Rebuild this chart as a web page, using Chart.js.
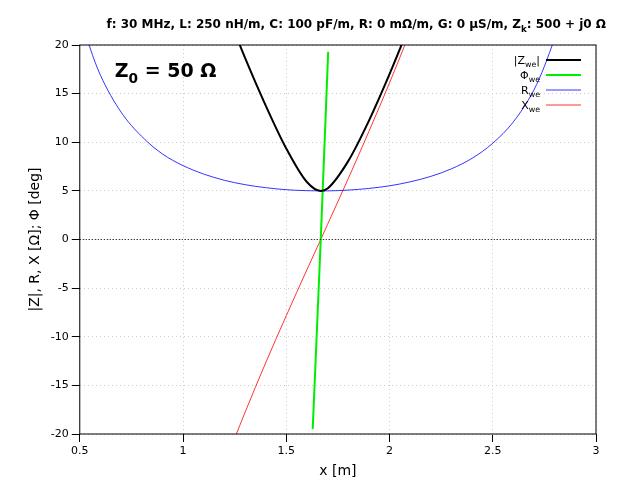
<!DOCTYPE html>
<html>
<head>
<meta charset="utf-8">
<script src="https://cdn.jsdelivr.net/npm/chart.js@4"></script>
<style>
body { margin: 0; background: #fff; }
#wrap { width: 640px; height: 480px; }
</style>
</head>
<body>
<div id="wrap"><canvas id="c" width="640" height="480"></canvas></div>
<script>
// values
const xPos = [0.5, 0.55, 0.6, 0.7, 0.8, 0.9, 1.0, 1.1, 1.2, 1.3, 1.4, 1.5, 1.6, 1.667, 1.7, 1.8, 1.9, 2.0, 2.1, 2.2, 2.3, 2.4, 2.5, 2.6, 2.7, 2.75, 2.8];
const rWe = [23.4, 19.7, 16.9, 13.1, 10.6, 8.8, 7.6, 6.73, 6.09, 5.64, 5.33, 5.12, 5.02, 5.0, 5.0, 5.08, 5.25, 5.52, 5.93, 6.49, 7.27, 8.35, 9.9, 12.1, 15.4, 17.8, 20.7];
const xWe = [-93.6, -84, -75.9, -62.8, -52.2, -43.2, -35.8, -29.2, -23.2, -17.8, -12.7, -7.84, -3.11, 0, 1.55, 6.25, 11.1, 16.1, 21.4, 27.1, 33.4, 40.6, 49.0, 59.0, 71.1, 78, 86.8];
const absX = [1.2, 1.3, 1.4, 1.5, 1.6, 1.667, 1.7, 1.8, 1.9, 2.0, 2.1];
const absZ = [24.0, 18.7, 13.8, 9.36, 5.91, 5.0, 5.24, 8.06, 12.2, 17.0, 22.2];
const phiX = [1.628, 1.667, 1.703];
const phiVal = [-19.5, 0, 19.3];

function pts(xs, ys) { return xs.map((x, i) => ({ x: x, y: ys[i] })); }

const series = [
    { name: "|Z", sub: "we", after: "|", color: "#000000", width: 2, data: pts(absX, absZ) },
    { name: "Φ", sub: "we", after: "", color: "#00ee00", width: 2, data: pts(phiX, phiVal) },
    { name: "R", sub: "we", after: "", color: "#0000ff", width: 0.8, data: pts(xPos, rWe) },
    { name: "X", sub: "we", after: "", color: "#ff0000", width: 0.8, data: pts(xPos, xWe) },
];

// text with subscript helper
function subText(ctx, parts, x, y, size, bold, align) {
    const f = (s) => (bold ? "bold " : "") + s + "px 'DejaVu Sans'";
    let w = 0;
    parts.forEach(p => { ctx.font = f(p[1] ? size * 0.72 : size); w += ctx.measureText(p[0]).width; });
    let cx = align === "right" ? x - w : x;
    ctx.textBaseline = "alphabetic";
    ctx.textAlign = "left";
    parts.forEach(p => {
        ctx.font = f(p[1] ? size * 0.72 : size);
        ctx.fillText(p[0], cx, p[1] ? y + size * 0.3 : y);
        cx += ctx.measureText(p[0]).width;
    });
}

const deco = {
    id: "deco",
    afterDraw(chart) {
        const ctx = chart.ctx;
        const a = chart.chartArea;
        ctx.save();
        ctx.fillStyle = "#000";
        subText(ctx, [["f: 30 MHz, L: 250 nH/m, C: 100 pF/m, R: 0 mΩ/m, G: 0 µS/m, Z", 0], ["k", 1], [": 500 + j0 Ω", 0]], 606, 28, 12, true, "right");
        subText(ctx, [["Z", 0], ["0", 1], [" = 50 Ω", 0]], a.left + 35, a.top + 32, 19, true, "left");
        // legend
        series.forEach((s, i) => {
            const y = a.top + 15 + i * 15;
            ctx.fillStyle = "#000";
            const parts = [[s.name, 0], [s.sub, 1]];
            if (s.after) parts.push([s.after, 0]);
            subText(ctx, parts, a.right - 56, y + 4, 11, false, "right");
            ctx.strokeStyle = s.color;
            ctx.lineWidth = s.width;
            ctx.beginPath();
            ctx.moveTo(a.right - 50, y);
            ctx.lineTo(a.right - 15, y);
            ctx.stroke();
        });
        // zero line
        const y0 = chart.scales.y.getPixelForValue(0);
        ctx.strokeStyle = "#000";
        ctx.lineWidth = 1;
        ctx.setLineDash([1, 2]);
        ctx.beginPath();
        ctx.moveTo(a.left, y0);
        ctx.lineTo(a.right, y0);
        ctx.stroke();
        ctx.setLineDash([]);
        ctx.strokeRect(a.left, a.top, a.right - a.left, a.bottom - a.top);
        ctx.restore();
    }
};

new Chart(document.getElementById("c"), {
    type: "scatter",
    data: {
        datasets: series.map(s => ({
            data: s.data,
            showLine: true,
            borderColor: s.color,
            borderWidth: s.width,
            pointRadius: 0,
            tension: 0.4,
            cubicInterpolationMode: "monotone",
        })),
    },
    options: {
        responsive: false,
        animation: false,
        layout: { padding: { top: 45, right: 44, left: 23, bottom: 0 } },
        plugins: { legend: { display: false }, tooltip: { enabled: false } },
        scales: {
            x: {
                min: 0.5, max: 3,
                ticks: { stepSize: 0.5, color: "#000", font: { family: "DejaVu Sans", size: 11 },
                         callback: (v) => String(Math.round(v * 10) / 10) },
                grid: { color: "#cccccc", drawTicks: true, tickColor: "#000" },
                border: { display: false, dash: [1, 3] },
                title: { display: true, text: "x [m]", color: "#000", font: { family: "DejaVu Sans", size: 14 }, padding: { top: 2, bottom: 0 } },
            },
            y: {
                min: -20, max: 20,
                ticks: { stepSize: 5, color: "#000", font: { family: "DejaVu Sans", size: 11 } },
                grid: { color: "#cccccc", drawTicks: true, tickColor: "#000" },
                border: { display: false, dash: [1, 3] },
                title: { display: true, text: "|Z|, R, X [Ω]; Φ [deg]", color: "#000", font: { family: "DejaVu Sans", size: 14 } },
            },
        },
    },
    plugins: [deco],
});
</script>
</body>
</html>
